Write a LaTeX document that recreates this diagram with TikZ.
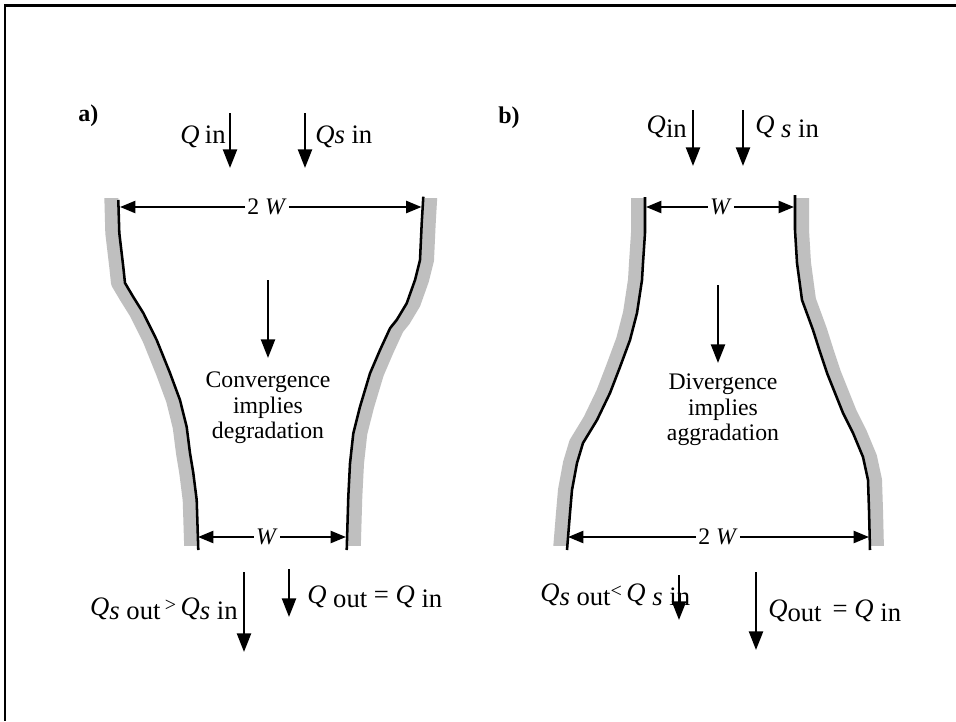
\documentclass[tikz,border=0pt]{standalone}
\usepackage{fontspec}
\setmainfont{Liberation Serif}
\usetikzlibrary{arrows.meta}
\newcommand\lowr[1]{\raisebox{-3pt}{#1}}
\begin{document}
\begin{tikzpicture}[x=0.75pt,y=-0.75pt,
  flow/.style={line width=1.8pt,-{Triangle[length=14pt,width=10.5pt]}},
  dimline/.style={line width=1.7pt,-{Triangle[length=11.5pt,width=9pt]}},
  bank/.style={line width=1.9pt,line join=round},
  bankband/.style={line width=10.5pt,color=gray!50,line join=round},
  lbl/.style={inner sep=0pt,font=\fontsize{20}{24}\selectfont},
  body/.style={inner sep=0pt,font=\fontsize{17.8}{19}\selectfont,align=center},
  tag/.style={inner sep=0pt,font=\fontsize{18}{19}\selectfont\bfseries},
  dimlbl/.style={inner sep=1.5pt,font=\fontsize{17.8}{19}\selectfont}]
\useasboundingbox (0,0) rectangle (956,721);
\fill[white] (0,0) rectangle (956,721);
% frame
\draw[line width=2pt] (956,5.5) -- (5,5.5) -- (5,721);

% gray bands
\begin{scope}
\clip (0,198) rectangle (956,545);
\begin{scope}[xshift=-5.25pt]
\draw[bankband] plot coordinates {(118.3,196) (119.3,233) (123.3,267) (125,283) (133.3,297) (143.3,313) (156.7,340) (170,373) (180,400) (186.7,427) (190,453) (193.3,473) (196.7,500) (198.3,550)};
\draw[bankband] plot coordinates {(645,196) (645,233) (643,263) (642,280) (637,313) (630,340) (620,367) (610,393) (597,420) (583,443) (577,463) (572,490) (570,513) (567,550)};
\end{scope}
\begin{scope}[xshift=5.25pt]
\draw[bankband] plot coordinates {(423.3,196) (421.7,223.3) (420,260) (415,280) (406.7,303.3) (396.7,320) (390,328.3) (380,350) (370,373.3) (360,406.7) (353.3,433.3) (350,463.3) (348.3,496.7) (346.7,550)};
\draw[bankband] plot coordinates {(795,195) (795,230) (797,263) (802,300) (813,330) (820,352) (827,373) (835,393) (843,413) (853,433) (863,457) (868,480) (869,510) (870,550)};
\end{scope}
\end{scope}

% black bank lines
\draw[bank] plot coordinates {(118.3,200) (119.3,233) (123.3,267) (125,283) (133.3,297) (143.3,313) (156.7,340) (170,373) (180,400) (186.7,427) (190,453) (193.3,473) (196.7,500) (198.3,550)};
\draw[bank] plot coordinates {(423.3,196.7) (421.7,223.3) (420,260) (415,280) (406.7,303.3) (396.7,320) (390,328.3) (380,350) (370,373.3) (360,406.7) (353.3,433.3) (350,463.3) (348.3,496.7) (346.7,550)};
\draw[bank] plot coordinates {(645,197) (645,233) (643,263) (642,280) (637,313) (630,340) (620,367) (610,393) (597,420) (583,443) (577,463) (572,490) (570,513) (567,550)};
\draw[bank] plot coordinates {(795,195) (795,230) (797,263) (802,300) (813,330) (820,352) (827,373) (835,393) (843,413) (853,433) (863,457) (868,480) (869,510) (870,550)};

% ---------- panel a ----------
\node[tag, anchor=base west] (taga) at (78,121) {a)};
\coordinate (aqin1) at (230,113); \coordinate (aqin2) at (230,168);
\coordinate (aqsin1) at (305,113); \coordinate (aqsin2) at (305,168);
\draw[flow] (aqin1) -- (aqin2);
\draw[flow] (aqsin1) -- (aqsin2);
\node[lbl, anchor=base east] (laqin) at (226,143) {\textit{Q}\kern4pt in};
\node[lbl, anchor=base west] (laqsin) at (315,143) {\textit{Qs} in};

\node[dimlbl] (wa) at (267,207) {2 \textit{W}};
\coordinate (wal) at (120,207); \coordinate (war) at (421.5,207);
\draw[dimline] (wa.west) -- (wal);
\draw[dimline] (wa.east) -- (war);

\coordinate (ac1) at (268,280); \coordinate (ac2) at (268,358);
\draw[flow] (ac1) -- (ac2);
\node[body, anchor=north] (texta) at (268,372) {Convergence\\implies\\degradation};

\node[dimlbl] (wb1) at (267,537) {\textit{W}};
\coordinate (wbl) at (198,537); \coordinate (wbr) at (346,537);
\draw[dimline] (wb1.west) -- (wbl);
\draw[dimline] (wb1.east) -- (wbr);

\coordinate (aqsout1) at (244,572); \coordinate (aqsout2) at (244,652);
\coordinate (aqout1) at (289,569); \coordinate (aqout2) at (289,617);
\draw[flow] (aqsout1) -- (aqsout2);
\draw[flow] (aqout1) -- (aqout2);
\node[lbl, anchor=base east] (laqsout) at (238,615) {\textit{Q}\lowr{\textit{s} out}\,\raisebox{3pt}{\fontsize{15}{15}\selectfont >}\,\textit{Q}\lowr{\textit{s} in}};
\node[lbl, anchor=base west] (laqout) at (307,603) {\textit{Q}\lowr{ out} = \textit{Q}\lowr{ in}};

% ---------- panel b ----------
\node[tag, anchor=base west] (tagb) at (498,123) {b)};
\coordinate (bqin1) at (693,110); \coordinate (bqin2) at (693,166);
\coordinate (bqsin1) at (743,110); \coordinate (bqsin2) at (743,166);
\draw[flow] (bqin1) -- (bqin2);
\draw[flow] (bqsin1) -- (bqsin2);
\node[lbl, anchor=base east] (lbqin) at (687,133) {\textit{Q}\lowr{in}};
\node[lbl, anchor=base west] (lbqsin) at (755,133) {\textit{Q}\lowr{ \textit{s} in}};

\node[dimlbl] (wc) at (721,207) {\textit{W}};
\coordinate (wcl) at (646,207); \coordinate (wcr) at (794,207);
\draw[dimline] (wc.west) -- (wcl);
\draw[dimline] (wc.east) -- (wcr);

\coordinate (bc1) at (718,285); \coordinate (bc2) at (718,363);
\draw[flow] (bc1) -- (bc2);
\node[body, anchor=north] (textb) at (723,374) {Divergence\\implies\\aggradation};

\node[dimlbl] (wd) at (718,537) {2 \textit{W}};
\coordinate (wdl) at (568,537); \coordinate (wdr) at (869,537);
\draw[dimline] (wd.west) -- (wdl);
\draw[dimline] (wd.east) -- (wdr);

\coordinate (bqsout1) at (679,575); \coordinate (bqsout2) at (679,620);
\coordinate (bqout1) at (756,572); \coordinate (bqout2) at (756,650);
\draw[flow] (bqsout1) -- (bqsout2);
\draw[flow] (bqout1) -- (bqout2);
\node[lbl, anchor=base west] (lbqsout) at (540,601) {\textit{Q}\lowr{\textit{s} out}\raisebox{3pt}{\fontsize{15}{15}\selectfont <}\,\textit{Q}\lowr{ \textit{s} in}};
\node[lbl, anchor=base west] (lbqout) at (768,617) {\textit{Q}\lowr{out} \,= \textit{Q}\lowr{ in}};
\end{tikzpicture}
\end{document}
